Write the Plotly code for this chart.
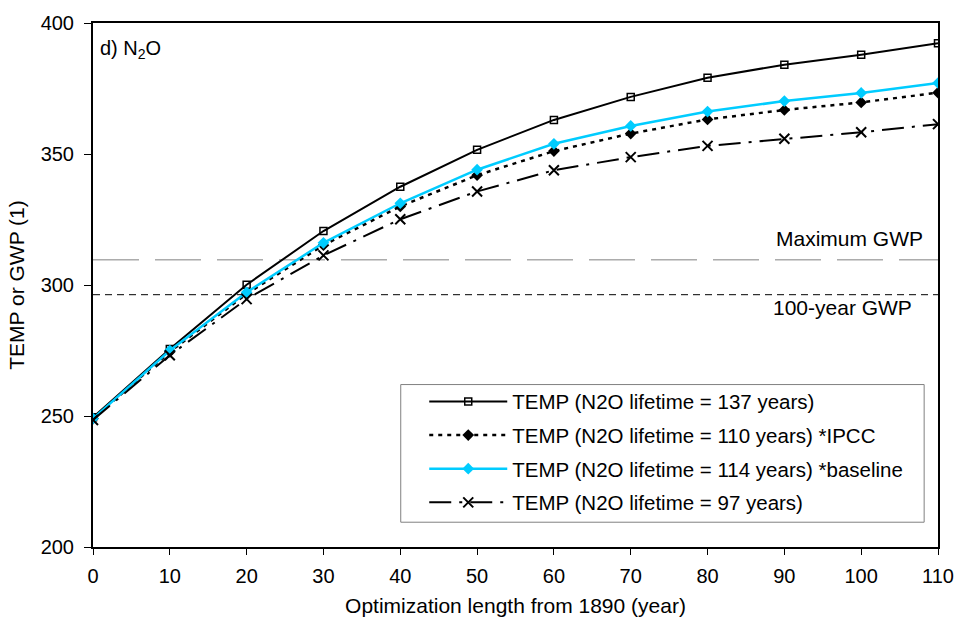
import plotly.graph_objects as go

years = [0, 10, 20, 30, 40, 50, 60, 70, 80, 90, 100, 110]
temp_137 = [249.5, 275.6, 300.1, 320.6, 337.5, 351.6, 363.0, 371.8, 379.1, 384.1, 387.9, 392.3]
temp_110 = [249.0, 274.5, 296.6, 315.2, 330.0, 341.9, 351.1, 357.8, 363.2, 366.8, 369.7, 373.4]
temp_114 = [249.0, 275.0, 297.2, 316.1, 331.2, 344.0, 353.9, 360.7, 366.2, 370.2, 373.3, 377.1]
temp_97 = [248.5, 273.2, 294.6, 311.3, 325.1, 335.7, 343.8, 348.8, 353.1, 355.8, 358.3, 361.4]
max_gwp = 309.6
gwp_100 = 296.3
names = [
    "TEMP (N2O lifetime = 137 years)",
    "TEMP (N2O lifetime = 110 years) *IPCC",
    "TEMP (N2O lifetime = 114 years) *baseline",
    "TEMP (N2O lifetime = 97 years)",
]

FONT = "Liberation Sans, Arial, sans-serif"
fig = go.Figure()

# reference lines
fig.add_trace(go.Scatter(x=[0, 110], y=[max_gwp, max_gwp], mode="lines",
                         line=dict(color="#808080", width=1, dash="46px,16px"),
                         showlegend=False, hoverinfo="skip"))
fig.add_trace(go.Scatter(x=[0, 110], y=[gwp_100, gwp_100], mode="lines",
                         line=dict(color="#000000", width=1, dash="7px,5px"),
                         showlegend=False, hoverinfo="skip"))

fig.add_trace(go.Scatter(x=years, y=temp_137, name=names[0], mode="lines+markers",
                         line=dict(color="black", width=2),
                         marker=dict(symbol="square-open", size=7, color="black", line=dict(width=1.5)),
                         legendgroup="a"))
fig.add_trace(go.Scatter(x=years, y=temp_110, name=names[1], mode="lines+markers",
                         line=dict(color="black", width=2.5, dash="4px,5px"),
                         marker=dict(symbol="diamond", size=9, color="black"),
                         legendgroup="b"))
fig.add_trace(go.Scatter(x=years, y=temp_114, name=names[2], mode="lines+markers",
                         line=dict(color="#00CCFF", width=2.5),
                         marker=dict(symbol="diamond", size=9, color="#00CCFF"),
                         legendgroup="c"))
fig.add_trace(go.Scatter(x=years, y=temp_97, name=names[3], mode="lines+markers",
                         line=dict(color="black", width=2, dash="22px,8px,3px,8px"),
                         marker=dict(symbol="x-thin-open", size=10, color="black", line=dict(width=2, color="black")),
                         legendgroup="d"))

fig.add_annotation(x=0.006, y=0.949, xref="paper", yref="paper", text="d) N<sub>2</sub>O",
                   showarrow=False, xanchor="left", yanchor="middle",
                   font=dict(size=20, family=FONT, color="black"))
fig.add_annotation(x=0.985, y=max_gwp, xref="paper", yref="y", text="Maximum GWP",
                   showarrow=False, xanchor="right", yshift=21,
                   font=dict(size=21, family=FONT, color="black"))
fig.add_annotation(x=0.972, y=gwp_100, xref="paper", yref="y", text="100-year GWP",
                   showarrow=False, xanchor="right", yshift=-13,
                   font=dict(size=21, family=FONT, color="black"))

# legend frame
fig.add_shape(type="rect", xref="paper", yref="paper", x0=0.3642, x1=0.9836, y0=0.0473, y1=0.31,
              line=dict(color="#808080", width=1), fillcolor="white", layer="below")

fig.update_layout(
    width=966, height=628,
    margin=dict(l=93, r=19, t=18, b=81),
    paper_bgcolor="white", plot_bgcolor="white",
    font=dict(family=FONT, size=20, color="black"),
    showlegend=True,
    legend=dict(x=0.392, y=0.3157, xanchor="left", yanchor="top",
                bgcolor="rgba(0,0,0,0)", borderwidth=0,
                font=dict(size=20.5, family=FONT), tracegroupgap=4,
                traceorder="grouped", itemwidth=78),
    xaxis=dict(range=[0, 110], tickvals=years, ticks="outside", ticklen=6, tickwidth=1,
               tickcolor="black", showline=True, linecolor="black", linewidth=2, mirror=True,
               showgrid=False, zeroline=False, ticklabelstandoff=4,
               title=dict(text="Optimization length from 1890 (year)", standoff=12,
                          font=dict(size=21, family=FONT)),
               tickfont=dict(size=20, family=FONT)),
    yaxis=dict(range=[200, 400], tickvals=[200, 250, 300, 350, 400], ticks="outside", ticklen=7,
               tickwidth=1, tickcolor="black", showline=True, linecolor="black", linewidth=2,
               mirror=True, showgrid=False, zeroline=False, ticklabelstandoff=6,
               title=dict(text="TEMP or GWP (1)", standoff=10, font=dict(size=21, family=FONT)),
               tickfont=dict(size=20, family=FONT)),
)

fig.write_html("out.html")
